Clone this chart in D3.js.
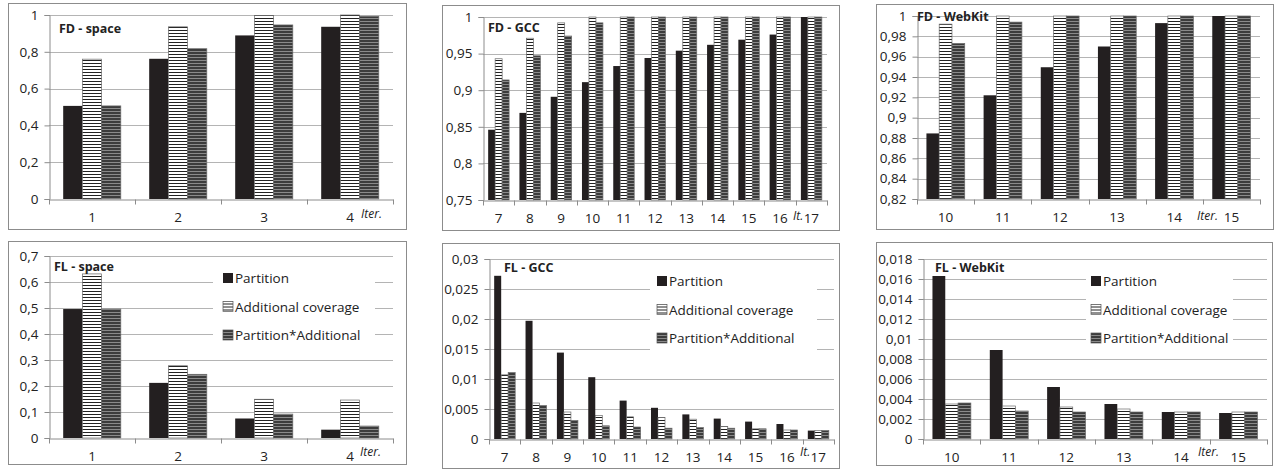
<!DOCTYPE html>
<html>
<head>
<meta charset="utf-8">
<script src="https://cdn.jsdelivr.net/npm/d3@7"></script>
<style>
  body { margin: 0; background: #fff; }
  text { font-family: "Open Sans", "Noto Sans", sans-serif; fill: #222; }
</style>
</head>
<body>
<div id="chart"></div>
<script>
// series names
var seriesNames = ["Partition", "Additional coverage", "Partition*Additional"];

// FD - space
var fdSpaceIters = ["1", "2", "3", "4"];
var fdSpacePartition = [0.506, 0.762, 0.889, 0.936];
var fdSpaceAdditional = [0.760, 0.936, 0.998, 1.0];
var fdSpaceCombined = [0.506, 0.817, 0.946, 0.993];
var fdSpaceTicks = [0, 0.2, 0.4, 0.6, 0.8, 1];

// FD - GCC
var fdGccIters = ["7", "8", "9", "10", "11", "12", "13", "14", "15", "16", "17"];
var fdGccPartition = [0.846, 0.869, 0.891, 0.911, 0.933, 0.944, 0.954, 0.962, 0.969, 0.976, 1.0];
var fdGccAdditional = [0.943, 0.971, 0.992, 1.0, 1.0, 1.0, 1.0, 1.0, 1.0, 1.0, 1.0];
var fdGccCombined = [0.914, 0.947, 0.974, 0.992, 1.0, 1.0, 1.0, 1.0, 1.0, 1.0, 1.0];
var fdGccTicks = [0.75, 0.8, 0.85, 0.9, 0.95, 1];

// FD - WebKit
var fdWebkitIters = ["10", "11", "12", "13", "14", "15"];
var fdWebkitPartition = [0.8845, 0.922, 0.9496, 0.970, 0.993, 1.0];
var fdWebkitAdditional = [0.992, 1.0, 1.0, 1.0, 1.0, 1.0];
var fdWebkitCombined = [0.973, 0.994, 1.0, 1.0, 1.0, 1.0];
var fdWebkitTicks = [0.82, 0.84, 0.86, 0.88, 0.9, 0.92, 0.94, 0.96, 0.98, 1];

// FL - space
var flSpaceIters = ["1", "2", "3", "4"];
var flSpacePartition = [0.496, 0.212, 0.075, 0.032];
var flSpaceAdditional = [0.631, 0.278, 0.149, 0.146];
var flSpaceCombined = [0.496, 0.245, 0.092, 0.046];
var flSpaceTicks = [0, 0.1, 0.2, 0.3, 0.4, 0.5, 0.6, 0.7];

// FL - GCC
var flGccIters = ["7", "8", "9", "10", "11", "12", "13", "14", "15", "16", "17"];
var flGccPartition = [0.0272, 0.0197, 0.0144, 0.0103, 0.0064, 0.0052, 0.0041, 0.0034, 0.0029, 0.0025, 0.0014];
var flGccAdditional = [0.0107, 0.0060, 0.0045, 0.0039, 0.0037, 0.0036, 0.0033, 0.0021, 0.0017, 0.0015, 0.0014];
var flGccCombined = [0.0111, 0.0056, 0.0031, 0.0022, 0.0020, 0.0018, 0.0019, 0.0018, 0.0017, 0.0015, 0.0014];
var flGccTicks = [0, 0.005, 0.01, 0.015, 0.02, 0.025, 0.03];

// FL - WebKit
var flWebkitIters = ["10", "11", "12", "13", "14", "15"];
var flWebkitPartition = [0.0163, 0.0089, 0.0052, 0.0035, 0.0027, 0.0026];
var flWebkitAdditional = [0.0035, 0.0033, 0.0032, 0.0030, 0.0027, 0.0027];
var flWebkitCombined = [0.0036, 0.0028, 0.0027, 0.0027, 0.0027, 0.0027];
var flWebkitTicks = [0, 0.002, 0.004, 0.006, 0.008, 0.01, 0.012, 0.014, 0.016, 0.018];

var fills = ["#231f20", "url(#stripeLight)", "url(#stripeDark)"];

var svg = d3.select("#chart").append("svg")
    .attr("width", 1278)
    .attr("height", 472);

var defs = svg.append("defs");

// horizontal stripes, white/black
var p1 = defs.append("pattern")
    .attr("id", "stripeLight")
    .attr("patternUnits", "userSpaceOnUse")
    .attr("width", 4).attr("height", 3);
p1.append("rect").attr("width", 4).attr("height", 3).attr("fill", "#fff");
p1.append("rect").attr("width", 4).attr("height", 1).attr("fill", "#222");

// horizontal stripes, dark grey
var p2 = defs.append("pattern")
    .attr("id", "stripeDark")
    .attr("patternUnits", "userSpaceOnUse")
    .attr("width", 4).attr("height", 3);
p2.append("rect").attr("width", 4).attr("height", 3).attr("fill", "#3c3c3c");
p2.append("rect").attr("width", 4).attr("height", 1).attr("fill", "#8a8a8a");

// comma decimal separator
function fmt(d) { return String(+d.toFixed(4)).replace(".", ","); }

var panels = [
  {title: "FD - space", iters: fdSpaceIters, series: [fdSpacePartition, fdSpaceAdditional, fdSpaceCombined],
   ticks: fdSpaceTicks, frame: [8, 3, 406, 229], plot: [49, 15, 393, 199], titlePos: [59, 33],
   iterLabel: "Iter.", iterPos: [361, 218]},
  {title: "FD - GCC", iters: fdGccIters, series: [fdGccPartition, fdGccAdditional, fdGccCombined],
   ticks: fdGccTicks, frame: [442, 5, 839, 230], plot: [483, 17, 827, 200], titlePos: [488, 32],
   iterLabel: "It.", iterPos: [793, 220]},
  {title: "FD - WebKit", iters: fdWebkitIters, series: [fdWebkitPartition, fdWebkitAdditional, fdWebkitCombined],
   ticks: fdWebkitTicks, frame: [876, 4, 1273, 229], plot: [917, 16, 1260, 199], titlePos: [917, 21],
   iterLabel: "Iter.", iterPos: [1197, 220]},
  {title: "FL - space", iters: flSpaceIters, series: [flSpacePartition, flSpaceAdditional, flSpaceCombined],
   ticks: flSpaceTicks, frame: [8, 241, 406, 464], plot: [49, 256, 393, 438], titlePos: [54, 271],
   iterLabel: "Iter.", iterPos: [360, 456], legend: {box: [213, 264, 375, 350], x: 223, y: 278}},
  {title: "FL - GCC", iters: flGccIters, series: [flGccPartition, flGccAdditional, flGccCombined],
   ticks: flGccTicks, frame: [442, 243, 839, 468], plot: [489, 259, 834, 439], titlePos: [504, 272],
   iterLabel: "It.", iterPos: [800, 456], legend: {box: [650, 267, 817, 353], x: 657, y: 281}},
  {title: "FL - WebKit", iters: flWebkitIters, series: [flWebkitPartition, flWebkitAdditional, flWebkitCombined],
   ticks: flWebkitTicks, frame: [876, 242, 1272, 465], plot: [923, 259, 1267, 439], titlePos: [935, 272],
   iterLabel: "Iter.", iterPos: [1198, 456], legend: {box: [1086, 267, 1233, 353], x: 1091, y: 281}}
];

panels.forEach(drawPanel);

function drawPanel(p) {
  var f = p.frame, pl = p.plot;
  var g = svg.append("g");

  g.append("rect")
      .attr("x", f[0] + 0.5).attr("y", f[1] + 0.5)
      .attr("width", f[2] - f[0]).attr("height", f[3] - f[1])
      .attr("fill", "#fff").attr("stroke", "#8c8c8c");

  var x0 = d3.scaleBand()
      .domain(p.iters)
      .range([pl[0], pl[2]])
      .paddingInner(0.33)
      .paddingOuter(0.165);

  var x1 = d3.scaleBand()
      .domain(d3.range(3))
      .range([0, x0.bandwidth()]);

  var y = d3.scaleLinear()
      .domain(d3.extent(p.ticks))
      .range([pl[3], pl[1]]);

  // gridlines
  g.append("g").selectAll("line")
      .data(p.ticks.slice(1))
    .enter().append("line")
      .attr("x1", pl[0]).attr("x2", pl[2])
      .attr("y1", function(d) { return Math.round(y(d)) + 0.5; })
      .attr("y2", function(d) { return Math.round(y(d)) + 0.5; })
      .attr("stroke", "#b4b4b4");

  // bars
  var groups = g.append("g").selectAll("g")
      .data(p.iters)
    .enter().append("g")
      .attr("transform", function(d) { return "translate(" + x0(d) + ",0)"; });

  groups.selectAll("rect")
      .data(function(d, i) { return p.series.map(function(s, k) { return {k: k, v: s[i]}; }); })
    .enter().append("rect")
      .attr("x", function(d) { return x1(d.k); })
      .attr("width", x1.bandwidth())
      .attr("y", function(d) { return y(d.v); })
      .attr("height", function(d) { return y.range()[0] - y(d.v); })
      .attr("fill", function(d) { return fills[d.k]; })
      .attr("stroke", function(d) { return d.k === 0 ? "none" : "#6a6a6a"; })
      .attr("stroke-width", 0.7);

  // y axis
  var yAxis = g.append("g")
      .attr("transform", "translate(" + (pl[0] + 0.5) + ",0)")
      .call(d3.axisLeft(y).tickValues(p.ticks).tickFormat(fmt).tickSize(5).tickPadding(6));
  yAxis.select(".domain").attr("stroke", "#8c8c8c");
  yAxis.selectAll(".tick line").attr("stroke", "#8c8c8c");
  yAxis.selectAll(".tick text")
      .style("font-size", "13.5px")
      .attr("fill", "#222");

  // x axis
  var xAxis = g.append("g")
      .attr("transform", "translate(0," + (pl[3] + 0.5) + ")")
      .call(d3.axisBottom(x0).tickSize(0).tickPadding(13));
  xAxis.select(".domain").attr("stroke", "#8c8c8c");
  xAxis.selectAll(".tick text")
      .style("font-size", "13.5px")
      .attr("fill", "#222");

  // boundary ticks between categories
  var step = x0.step();
  xAxis.append("g").selectAll("line")
      .data(d3.range(p.iters.length + 1))
    .enter().append("line")
      .attr("x1", function(i) { return Math.round(pl[0] + i * step) + 0.5; })
      .attr("x2", function(i) { return Math.round(pl[0] + i * step) + 0.5; })
      .attr("y1", 0).attr("y2", 5)
      .attr("stroke", "#8c8c8c");

  g.append("text")
      .attr("x", p.titlePos[0]).attr("y", p.titlePos[1])
      .style("font-size", "12.5px")
      .style("font-weight", "bold")
      .text(p.title);

  g.append("text")
      .attr("x", p.iterPos[0]).attr("y", p.iterPos[1])
      .style("font-size", "12px")
      .style("font-style", "italic")
      .text(p.iterLabel);

  if (p.legend) {
    var L = p.legend, b = L.box;
    g.append("rect")
        .attr("x", b[0]).attr("y", b[1])
        .attr("width", b[2] - b[0]).attr("height", b[3] - b[1])
        .attr("fill", "#fff");

    var items = g.append("g").selectAll("g")
        .data(seriesNames)
      .enter().append("g")
        .attr("transform", function(d, i) { return "translate(" + L.x + "," + (L.y + i * 28.5) + ")"; });

    items.append("rect")
        .attr("x", 0).attr("y", -5)
        .attr("width", 10).attr("height", 10)
        .attr("fill", function(d, i) { return fills[i]; })
        .attr("stroke", function(d, i) { return i === 0 ? "none" : "#555"; })
        .attr("stroke-width", 0.7);

    items.append("text")
        .attr("x", 12).attr("y", 5)
        .style("font-size", "13.5px")
        .text(function(d) { return d; });
  }
}
</script>
</body>
</html>
